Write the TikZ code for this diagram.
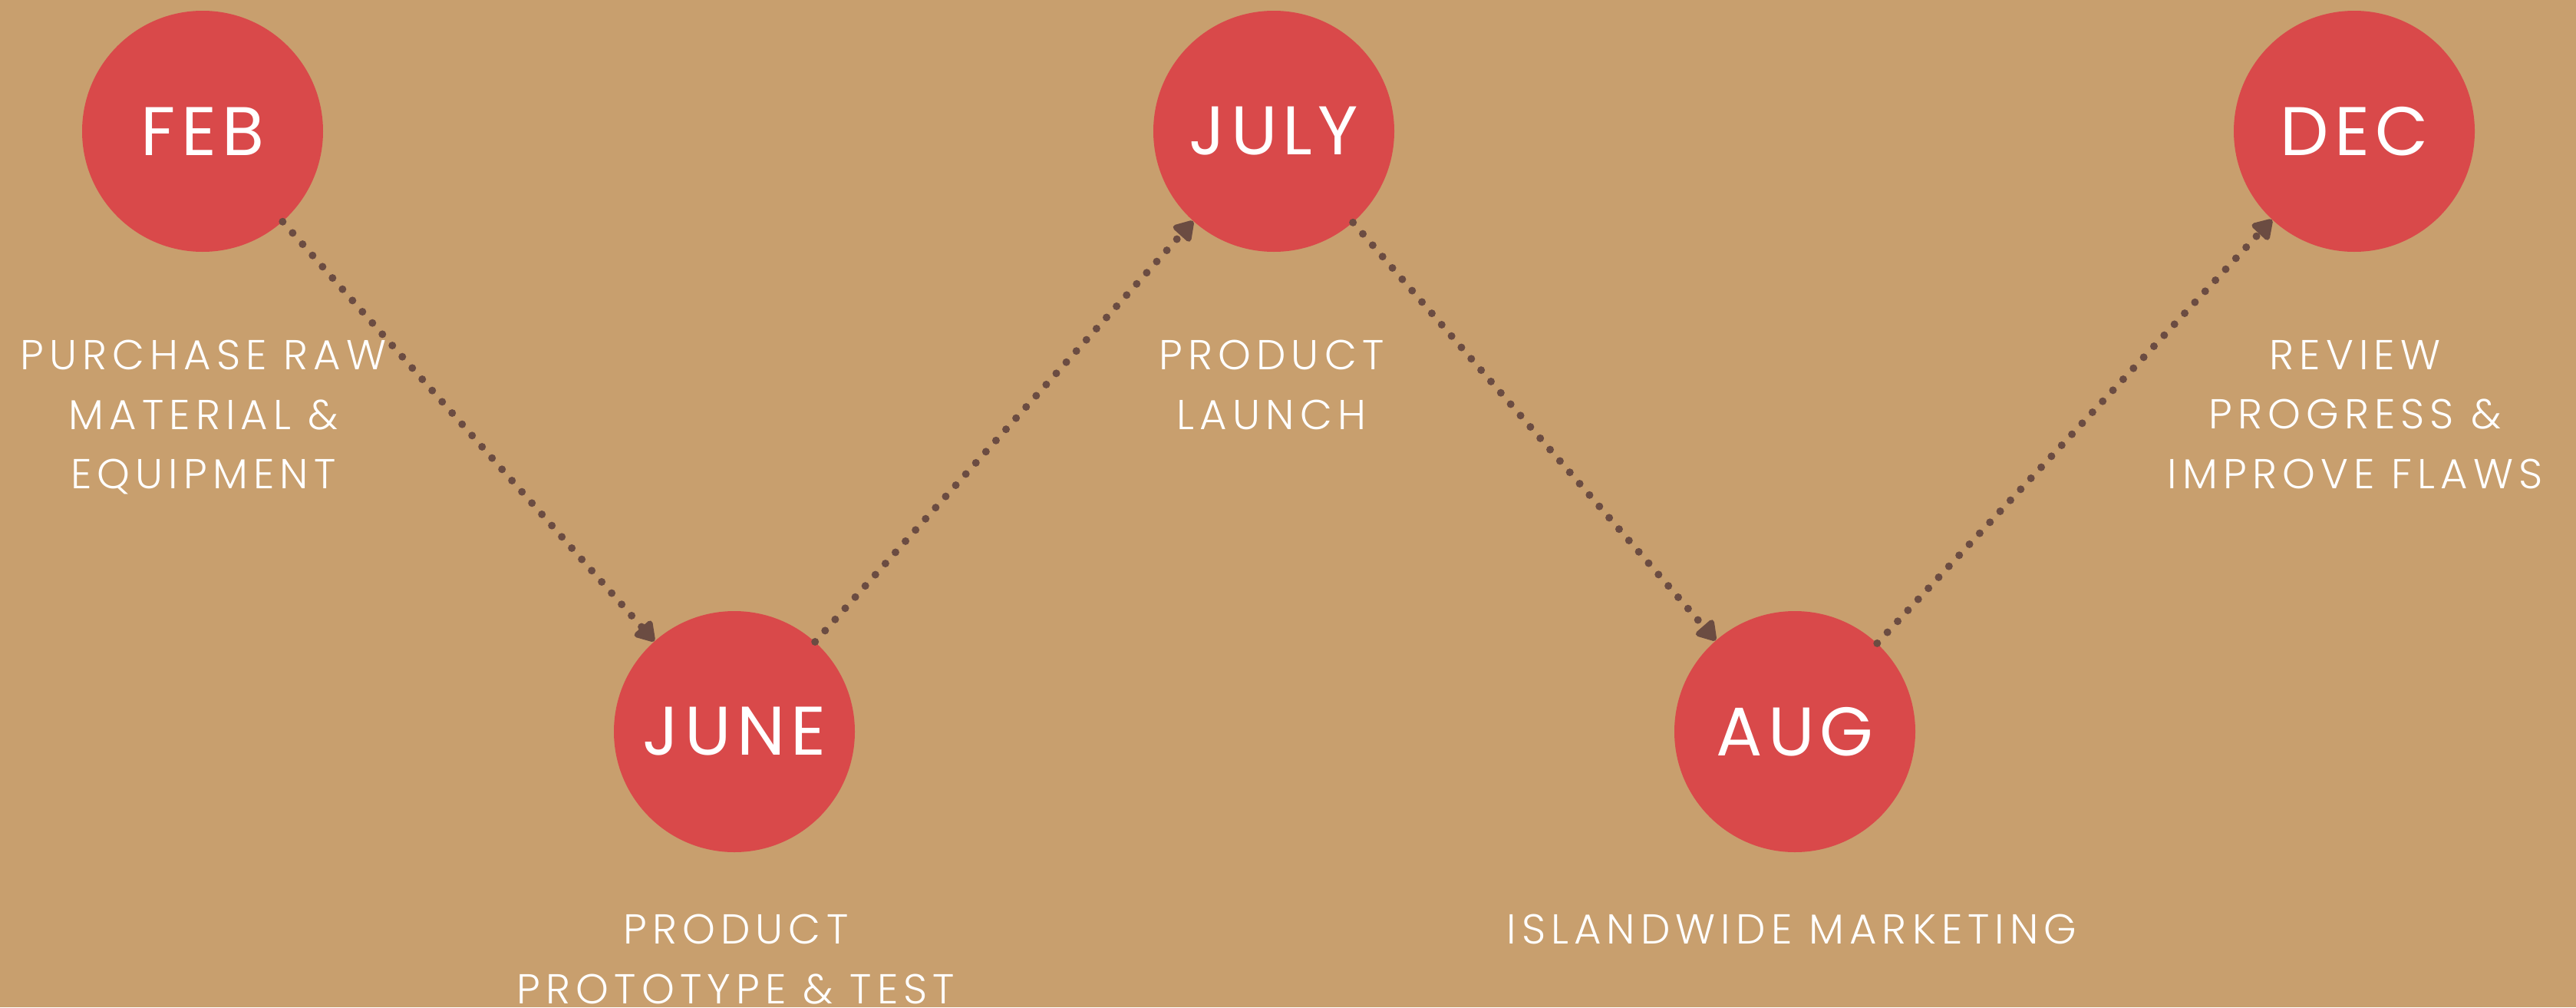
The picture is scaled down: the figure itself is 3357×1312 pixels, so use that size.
\documentclass[tikz,border=0pt]{standalone}
\usepackage{fontspec}
\setmainfont{Poppins}
\newfontfamily\captionfont{Poppins Light}[LetterSpace=13]
\newfontfamily\monthfont{Poppins}[LetterSpace=8]
\usetikzlibrary{arrows.meta}
\definecolor{bgtan}{HTML}{C89F6E}
\definecolor{dotred}{HTML}{D9494A}
\definecolor{arrowbrown}{HTML}{6B4C42}
\tikzset{
  month/.style={circle, fill=dotred, minimum size=314*0.02cm, inner sep=0pt,
    text=white, font=\monthfont\fontsize{51}{60}\selectfont},
  caption/.style={anchor=north, inner sep=0pt, align=center, text=white,
    font=\captionfont\fontsize{31}{44}\selectfont},
  flow/.style={draw=arrowbrown, line width=5.7pt, line cap=round,
    dash pattern=on 0pt off 11.15pt,
    -{Triangle[length=16pt,width=19pt,round]}}
}
\begin{document}
\begin{tikzpicture}[x=0.02cm,y=-0.02cm]
\fill[bgtan] (0,0) rectangle (3357,1312);
\useasboundingbox (0,0) rectangle (3357,1312);
\node[month] (feb) at (264,171) {FEB};
\node[month] (june) at (957,953) {JUNE};
\node[month] (july) at (1660,171) {JULY};
\node[month] (aug) at (2339,953) {AUG};
\node[month] (dec) at (3068,171) {DEC};
\node[caption] (tfeb) at (265,443) {PURCHASE RAW\\MATERIAL \&\\EQUIPMENT};
\node[caption] (tjune) at (959,1191) {PRODUCT\\PROTOTYPE \& TEST};
\node[caption] (tjuly) at (1657,443) {PRODUCT\\LAUNCH};
\node[caption] (taug) at (2335,1191) {ISLANDWIDE MARKETING};
\node[caption] (tdec) at (3069,443) {REVIEW\\PROGRESS \&\\IMPROVE FLAWS};
\draw[flow] (feb) -- (june);
\draw[flow] (june) -- (july);
\draw[flow] (july) -- (aug);
\draw[flow] (aug) -- (dec);
\end{tikzpicture}
\end{document}
